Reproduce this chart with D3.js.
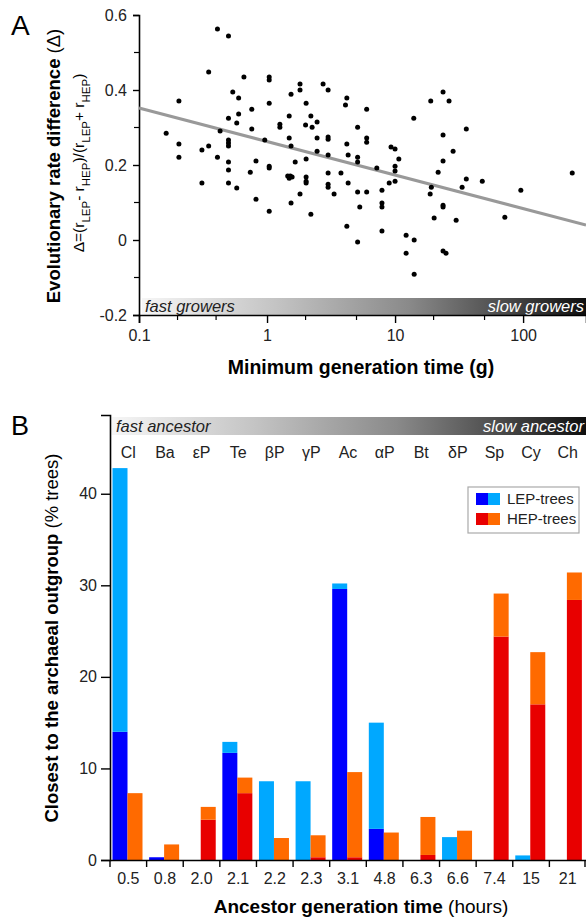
<!DOCTYPE html>
<html><head><meta charset="utf-8">
<script src="https://cdn.jsdelivr.net/npm/d3@7"></script>
<style>
html,body{margin:0;padding:0;background:#fff;}
svg{display:block;font-family:"Liberation Sans",Arial,Helvetica,sans-serif;}
</style></head>
<body>
<svg id="chart" width="586" height="919"></svg>
<script>
// ---------- Panel A data ----------
const genTimeA = [0.41,0.50,0.35,0.205,0.66,1.04,1.04,0.54,0.60,1.54,1.81,1.81,1.04,0.76,0.60,0.50,1.49,0.58,1.26,1.26,
  0.163,0.76,0.43,0.205,0.35,0.31,0.50,0.50,0.50,0.96,1.49,1.54,0.205,0.41,0.50,0.82,1.04,1.04,1.66,0.50,
  0.74,0.31,0.50,0.58,1.45,1.52,1.57,1.49,1.81,0.82,1.04,1.54,2.74,3.0,4.2,4.1,6.0,2.02,23.7,19,
  26.4,14,36,2.2,2.0,2.25,2.46,5.1,2.46,3.0,3.0,6.0,6.0,4.2,23.7,2.46,3.0,4.3,5.1,5.1,
  2.02,9.3,10,10.7,10,10,7.2,28.4,23.7,21.7,2.02,2.02,2.02,3.0,3.78,3.0,3.0,4.3,5.1,6.0,
  3.34,2.2,7.9,7.9,7.9,5.3,4.2,5.1,7.9,10,9.0,18.8,19.2,23.7,23.7,20.2,30,33.4,36,48,
  72,96,242,12.2,14.1,12.2,23.7,25,14.1];
const rateDiffA = [0.563,0.544,0.448,0.371,0.435,0.435,0.427,0.395,0.379,0.389,0.416,0.40,0.365,0.349,0.336,0.325,0.331,0.312,0.309,0.301,
  0.285,0.296,0.291,0.256,0.251,0.24,0.267,0.259,0.251,0.267,0.272,0.251,0.221,0.221,0.208,0.211,0.197,0.192,0.208,0.187,
  0.181,0.152,0.152,0.139,0.171,0.171,0.168,0.165,0.123,0.109,0.077,0.099,0.416,0.40,0.379,0.36,0.349,0.365,0.395,0.371,
  0.371,0.325,0.296,0.331,0.307,0.301,0.315,0.301,0.272,0.275,0.269,0.272,0.261,0.256,0.28,0.237,0.227,0.227,0.221,0.208,
  0.216,0.248,0.243,0.216,0.197,0.184,0.192,0.237,0.211,0.181,0.168,0.157,0.152,0.179,0.179,0.149,0.141,0.152,0.128,0.128,
  0.123,0.069,0.133,0.099,0.088,0.088,0.037,-0.005,0.024,0.157,0.152,0.123,0.141,0.093,0.088,0.059,0.053,0.141,0.163,0.157,
  0.061,0.133,0.179,0.013,0.0,-0.035,-0.029,-0.035,-0.091];
const fitX = [0.1, 310];
const fitY = [0.352, 0.040];
const yTicksA = [-0.2, 0, 0.2, 0.4, 0.6];
const yTickLabelsA = ["-0.2", "0", "0.2", "0.4", "0.6"];
const yMinorA = [-0.1, 0.1, 0.3, 0.5];
const xTicksA = [0.1, 1, 10, 100];
const xTickLabelsA = ["0.1", "1", "10", "100"];
const xMinorA = [0.2, 0.4, 2, 5, 20, 50];

// ---------- Panel B data ----------
const clades = ["Cl","Ba","εP","Te","βP","γP","Ac","αP","Bt","δP","Sp","Cy","Ch"];
const ancGenTime = ["0.5","0.8","2.0","2.1","2.2","2.3","3.1","4.8","6.3","6.6","7.4","15","21"];
const lepDark  = [14.0, 0.3, 0, 11.7, 0, 0, 29.6, 3.4, 0, 0, 0, 0, 0];
const lepTotal = [42.8, 0.3, 0, 12.9, 8.6, 8.6, 30.2, 15.0, 0, 2.5, 0, 0.5, 0];
const hepDark  = [0, 0, 4.4, 7.3, 0, 0.3, 0.3, 0, 0.55, 0, 24.4, 17.0, 28.4];
const hepTotal = [7.3, 1.7, 5.8, 9.0, 2.4, 2.7, 9.6, 3.0, 4.7, 3.2, 29.1, 22.7, 31.4];
const yTicksB = [0, 10, 20, 30, 40];
const seriesB = ["LEP-trees", "HEP-trees"];

const col = {lepDark:"#0000ff", lepLight:"#00a8ff", hepDark:"#e80000", hepLight:"#ff6a00"};
const FONT = "Liberation Sans, Arial, sans-serif";

const svg = d3.select("#chart");
const defs = svg.append("defs");
function grad(id){
  const g = defs.append("linearGradient").attr("id", id).attr("x1","0%").attr("x2","100%");
  [[0,"#f6f6f6"],[0.3,"#c4c4c4"],[0.6,"#8a8a8a"],[0.82,"#4a4a4a"],[1,"#0e0e0e"]]
    .forEach(([o,c]) => g.append("stop").attr("offset", o).attr("stop-color", c));
}
grad("gA"); grad("gB");

// ================= Panel A =================
const xA = d3.scaleLog().domain([0.1, 310]).range([139, 586]);
const yA = d3.scaleLinear().domain([-0.2, 0.6]).range([315, 15]);
const gA = svg.append("g");

gA.append("rect").attr("x", 142).attr("y", yA(-0.2) - 17).attr("width", 586 - 142).attr("height", 17).attr("fill", "url(#gA)");
gA.append("text").attr("x", 145).attr("y", yA(-0.2) - 3).attr("font-size", 16.5).attr("font-style", "italic").attr("fill", "#222").text("fast growers");
gA.append("text").attr("x", 584).attr("y", yA(-0.2) - 3).attr("font-size", 16.5).attr("font-style", "italic").attr("fill", "#fff").attr("text-anchor", "end").text("slow growers");

const yAxA = d3.axisLeft(yA).tickValues(yTicksA).tickFormat((d,i) => yTickLabelsA[i]).tickSize(6).tickPadding(6);
const gyA = gA.append("g").attr("transform", "translate(139,0)").call(yAxA);
gyA.selectAll("text").attr("font-size", 16).attr("fill", "#222").attr("font-family", FONT);
gyA.select(".domain").attr("stroke-width", 1.6);
gyA.selectAll(".tick line").attr("stroke-width", 1.4);
gyA.selectAll(".minor").data(yMinorA).enter().append("line").attr("class","minor")
  .attr("x1", -5).attr("x2", 0).attr("y1", d => yA(d)).attr("y2", d => yA(d)).attr("stroke", "#000").attr("stroke-width", 1.2);

const xAxA = d3.axisBottom(xA).tickValues(xTicksA).tickFormat((d,i) => xTickLabelsA[i]).tickSize(8).tickPadding(7);
const gxA = gA.append("g").attr("transform", "translate(0,315)").call(xAxA);
gxA.selectAll("text").attr("font-size", 16).attr("fill", "#222").attr("font-family", FONT);
gxA.select(".domain").attr("stroke-width", 1.6);
gxA.selectAll(".tick line").attr("stroke-width", 1.4);
gxA.selectAll(".minor").data(xMinorA).enter().append("line").attr("class","minor")
  .attr("x1", d => xA(d)).attr("x2", d => xA(d)).attr("y1", 0).attr("y2", 5).attr("stroke", "#000").attr("stroke-width", 1.2);

gA.append("line").attr("x1", xA(fitX[0])).attr("y1", yA(fitY[0])).attr("x2", xA(fitX[1])).attr("y2", yA(fitY[1]))
  .attr("stroke", "#999").attr("stroke-width", 3);

gA.selectAll(".pt").data(genTimeA.map((g,i) => [g, rateDiffA[i]])).enter().append("circle")
  .attr("class","pt").attr("cx", d => xA(d[0])).attr("cy", d => yA(d[1])).attr("r", 2.5).attr("fill", "#000");

svg.append("text").attr("x", 11).attr("y", 35).attr("font-size", 28).text("A");
const ylA = svg.append("text").attr("transform", "translate(60,166) rotate(-90)").attr("text-anchor", "middle").attr("font-size", 18.5);
ylA.append("tspan").attr("font-weight", "bold").text("Evolutionary rate difference ");
ylA.append("tspan").text("(Δ)");
const ylA2 = svg.append("text").attr("transform", "translate(84,163) rotate(-90)").attr("text-anchor", "middle").attr("font-size", 15.5);
ylA2.append("tspan").text("Δ=(r");
ylA2.append("tspan").attr("font-size", 11.5).attr("baseline-shift", "sub").text("LEP");
ylA2.append("tspan").text("- r");
ylA2.append("tspan").attr("font-size", 11.5).attr("baseline-shift", "sub").text("HEP");
ylA2.append("tspan").text(")/(r");
ylA2.append("tspan").attr("font-size", 11.5).attr("baseline-shift", "sub").text("LEP");
ylA2.append("tspan").text("+ r");
ylA2.append("tspan").attr("font-size", 11.5).attr("baseline-shift", "sub").text("HEP");
ylA2.append("tspan").text(")");
svg.append("text").attr("x", 361).attr("y", 374).attr("text-anchor", "middle").attr("font-size", 19.5).attr("font-weight", "bold")
  .text("Minimum generation time (g)");

// ================= Panel B =================
const xB = d3.scaleBand().domain(clades).range([110, 586]).padding(0);
const xSub = d3.scaleBand().domain(seriesB).range([2.5, 32.5]).padding(0);
const yB = d3.scaleLinear().domain([0, 48.6]).range([860, 415]);
const gB = svg.append("g");

gB.append("rect").attr("x", 112).attr("y", 417).attr("width", 586 - 112).attr("height", 18).attr("fill", "url(#gB)");
gB.append("text").attr("x", 116).attr("y", 432).attr("font-size", 16.5).attr("font-style", "italic").attr("fill", "#222").text("fast ancestor");
gB.append("text").attr("x", 584).attr("y", 432).attr("font-size", 16.5).attr("font-style", "italic").attr("fill", "#fff").attr("text-anchor", "end").text("slow ancestor");

gB.selectAll(".clade").data(clades).enter().append("text").attr("class","clade")
  .attr("x", d => xB(d) + xB.bandwidth()/2).attr("y", 458).attr("text-anchor", "middle").attr("font-size", 16).attr("fill", "#222").text(d => d);

const barRows = clades.map((c,i) => ({c, lepDark: lepDark[i], lepTotal: lepTotal[i], hepDark: hepDark[i], hepTotal: hepTotal[i]}));
const bw = xSub.bandwidth();
function bar(x, v0, v1, fill){
  if (v1 <= v0) return;
  gB.append("rect").attr("x", x).attr("y", yB(v1)).attr("width", bw).attr("height", yB(v0) - yB(v1)).attr("fill", fill);
}
barRows.forEach(r => {
  const xl = xB(r.c) + xSub("LEP-trees");
  const xh = xB(r.c) + xSub("HEP-trees");
  bar(xl, 0, r.lepDark, col.lepDark);
  bar(xl, r.lepDark, r.lepTotal, col.lepLight);
  bar(xh, 0, r.hepDark, col.hepDark);
  bar(xh, r.hepDark, r.hepTotal, col.hepLight);
});

const yAxB = d3.axisLeft(yB).tickValues(yTicksB).tickSize(9).tickPadding(4);
const gyB = gB.append("g").attr("transform", "translate(110,0)").call(yAxB);
gyB.selectAll("text").attr("font-size", 16).attr("fill", "#222").attr("font-family", FONT);
gyB.select(".domain").attr("stroke-width", 1.6);
gyB.selectAll(".tick line").attr("stroke-width", 1.4);

const xAxB = d3.axisBottom(xB).tickFormat((d,i) => ancGenTime[i]).tickSize(0).tickPadding(13);
const gxB = gB.append("g").attr("transform", "translate(0,860)").call(xAxB);
gxB.selectAll("text").attr("font-size", 16).attr("fill", "#222").attr("font-family", FONT);
gxB.select(".domain").attr("stroke-width", 1.6);
const bounds = clades.map(c => xB(c)).concat([xB.range()[1] - 1]);
gxB.selectAll(".bnd").data(bounds).enter().append("line").attr("class","bnd")
  .attr("x1", d => d).attr("x2", d => d).attr("y1", 0).attr("y2", 7).attr("stroke", "#000").attr("stroke-width", 1.4);

const lg = gB.append("g").attr("transform", "translate(468,487)");
lg.append("rect").attr("width", 111).attr("height", 46).attr("fill", "#fff").attr("stroke", "#aaa").attr("stroke-width", 1.2);
[[col.lepDark, col.lepLight], [col.hepDark, col.hepLight]].forEach((cs, i) => {
  lg.append("rect").attr("x", 8).attr("y", 6 + i*20).attr("width", 12).attr("height", 12).attr("fill", cs[0]);
  lg.append("rect").attr("x", 20).attr("y", 6 + i*20).attr("width", 12).attr("height", 12).attr("fill", cs[1]);
  lg.append("text").attr("x", 39).attr("y", 17 + i*20).attr("font-size", 15).attr("fill", "#222").text(seriesB[i]);
});

svg.append("text").attr("x", 11).attr("y", 435).attr("font-size", 27).text("B");
const ylB = svg.append("text").attr("transform", "translate(58,638) rotate(-90)").attr("text-anchor", "middle").attr("font-size", 18.5);
ylB.append("tspan").attr("font-weight", "bold").text("Closest to the archaeal outgroup ");
ylB.append("tspan").text("(% trees)");
const xlB = svg.append("text").attr("x", 361).attr("y", 913).attr("text-anchor", "middle").attr("font-size", 19);
xlB.append("tspan").attr("font-weight", "bold").text("Ancestor generation time ");
xlB.append("tspan").text("(hours)");
</script>
</body></html>
